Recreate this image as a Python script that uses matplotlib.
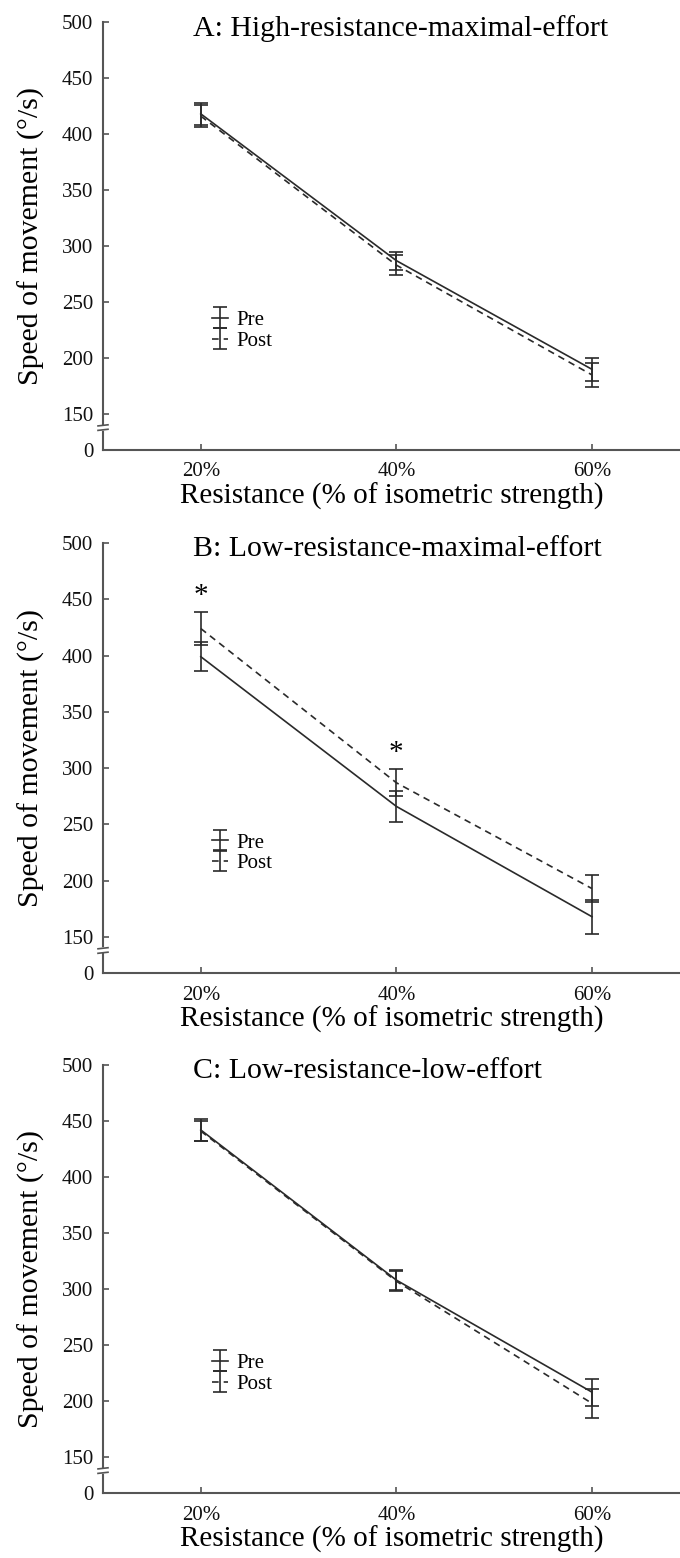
import matplotlib
matplotlib.use('Agg')
import matplotlib.pyplot as plt
import matplotlib.transforms as mtransforms

plt.rcParams['font.family'] = ['Liberation Serif', 'DejaVu Serif']

# ---------------- data ----------------
x_labels = ['20%', '40%', '60%']
x_pos = [1, 2, 3]

titles = ['A: High-resistance-maximal-effort',
          'B: Low-resistance-maximal-effort',
          'C: Low-resistance-low-effort']

pre_A = [418, 287, 190]
pre_A_err = [10, 8, 10]
post_A = [416, 283, 185]
post_A_err = [10, 9, 11]

pre_B = [399, 266, 168]
pre_B_err = [13, 14, 15]
post_B = [424, 287, 193]
post_B_err = [15, 12, 12]
sig_B = [True, True, False]

pre_C = [442, 308, 208]
pre_C_err = [10, 9, 12]
post_C = [441, 307, 198]
post_C_err = [9, 9, 13]

y_tick_values = [150, 200, 250, 300, 350, 400, 450, 500]
y_zero_pos = 118      # axis position standing for "0" after the break
y_break = 138

panels = [
    (titles[0], pre_A, pre_A_err, post_A, post_A_err, [False, False, False]),
    (titles[1], pre_B, pre_B_err, post_B, post_B_err, sig_B),
    (titles[2], pre_C, pre_C_err, post_C, post_C_err, [False, False, False]),
]

# ---------------- figure ----------------
W, H = 680, 1558
fig = plt.figure(figsize=(W / 100, H / 100), dpi=100)

axes_px = [(22, 450), (543, 973), (1065, 1493)]
left_px = 103
ink = '#2a2a2a'
axc = '#555555'

for (title, pre, pre_err, post, post_err, sig), (top, bot) in zip(panels, axes_px):
    ax = fig.add_axes([left_px / W, 1 - bot / H, (W - left_px) / W, (bot - top) / H])
    ax.set_xlim(0.5, 3.45)
    ax.set_ylim(y_zero_pos, 500)

    ax.errorbar(x_pos, pre, yerr=pre_err, color=ink, lw=1.2, elinewidth=1.2,
                capsize=5, capthick=1.2, label='Pre')
    ax.errorbar(x_pos, post, yerr=post_err, color=ink, lw=1.2, elinewidth=1.2,
                capsize=5, capthick=1.2, ls=(0, (4, 3)), label='Post')

    for xi, yi, ei, s in zip(x_pos, post, post_err, sig):
        if s:
            ax.annotate('*', (xi, yi + ei), xytext=(0, 2), textcoords='offset points',
                        ha='center', va='bottom', fontsize=21)

    for side in ['top', 'right']:
        ax.spines[side].set_visible(False)
    for side in ['left', 'bottom']:
        ax.spines[side].set_color(axc)
        ax.spines[side].set_linewidth(1.5)

    ax.set_xticks(x_pos)
    ax.set_xticklabels(x_labels, fontsize=15)
    ax.set_yticks([y_zero_pos] + y_tick_values)
    ax.set_yticklabels(['0'] + [str(v) for v in y_tick_values], fontsize=15)
    ax.tick_params(direction='in', length=4, width=1.2, color=axc, labelcolor='#111111')
    ax.tick_params(axis='x', pad=9)
    ax.tick_params(axis='y', pad=7)

    ax.set_xlabel('Resistance (% of isometric strength)', fontsize=21, labelpad=1)
    ax.set_ylabel('Speed of movement (°/s)', fontsize=21.5, labelpad=12)

    ax.text(0.156, 0.985, title, transform=ax.transAxes, ha='left', va='center',
            fontsize=21.5)

    # axis break marks
    tr = mtransforms.blended_transform_factory(ax.transAxes, ax.transData)
    dx = 5 / (W - left_px)
    ax.plot([-dx, dx], [y_break, y_break], transform=tr, color='white', lw=4,
            clip_on=False, zorder=5)
    for yb in (y_break - 2, y_break + 2):
        ax.plot([-dx, dx], [yb - 0.5, yb + 0.5], transform=tr, color=axc, lw=1.2,
                clip_on=False, zorder=6)

    ax.legend(loc='upper left', bbox_to_anchor=(0.17, 0.35), frameon=False,
              fontsize=15, handlelength=0.8, handletextpad=0.4, labelspacing=0.05,
              borderpad=0)

fig.savefig('out.png', dpi=100)
